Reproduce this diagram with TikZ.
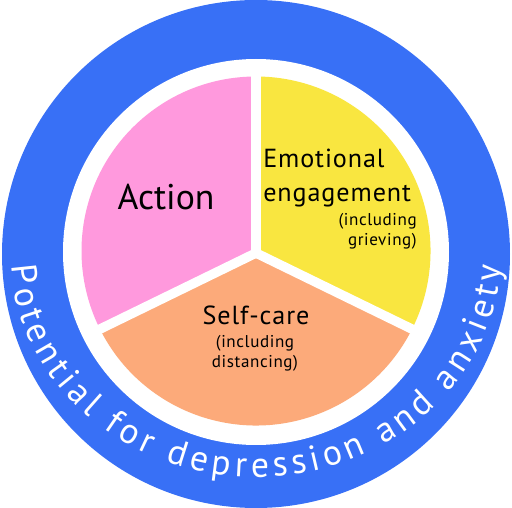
\documentclass[tikz,border=0pt]{standalone}
\usepackage{fontspec}
\setmainfont{PT Sans}
\newfontfamily\spacedfont[LetterSpace=3.5]{PT Sans}
\usetikzlibrary{decorations.text}

\definecolor{ringblue}{RGB}{56,112,246}
\definecolor{actionpink}{RGB}{255,153,221}
\definecolor{emoyellow}{RGB}{249,230,64}
\definecolor{careorange}{RGB}{252,170,122}

\newcommand{\bigfont}{\fontsize{26.8}{32}\selectfont}
\newcommand{\midfont}{\spacedfont\fontsize{19.6}{25.5}\selectfont}
\newcommand{\smallfont}{\spacedfont\fontsize{12.8}{15}\selectfont}
\newcommand{\ringfont}{\fontsize{26.8}{32}\selectfont}

\tikzset{
  gap/.style={draw=white, line width=7.1pt},
  label/.style={inner sep=0pt, text=black},
}

\begin{document}
\begin{tikzpicture}[x=0.75pt,y=0.75pt]
\useasboundingbox (0,0) rectangle (512,508);

\coordinate (ringc) at (256,254);
\coordinate (innerc) at (256,256);
\coordinate (piec) at (256,257);
\coordinate (hub) at (256,255);

%Shape: outer ring
\fill[ringblue] (ringc) circle[radius=254];
\fill[white] (innerc) circle[radius=193];

%Shape: sectors
\fill[actionpink] (hub) -- ([shift={(piec)}]90:174.5) arc[start angle=90, end angle=206, radius=174.5] -- cycle;
\fill[emoyellow] (hub) -- ([shift={(piec)}]-26:174.5) arc[start angle=-26, end angle=90, radius=174.5] -- cycle;
\fill[careorange] (hub) -- ([shift={(piec)}]206:174.5) arc[start angle=206, end angle=334, radius=174.5] -- cycle;

%Straight Lines: gaps
\draw[gap] (hub) -- ++(90:185);
\draw[gap] (hub) -- ++(206:185);
\draw[gap] (hub) -- ++(334:185);

% Text Node
\node[label, anchor=base, font=\bigfont] (action) at (166,298) {Action};
% Text Node
\node[label, anchor=base west, align=left, font=\midfont] (emotional) at (263,306) {Emotional\\engagement};
% Text Node
\node[label, anchor=base east, align=right, font=\smallfont] (grieving) at (417,262) {(including\\grieving)};
% Text Node
\node[label, anchor=base, font=\midfont] (selfcare) at (256,183) {Self-care};
% Text Node
\node[label, anchor=base, align=center, font=\smallfont] (distancing) at (255,140) {(including\\distancing)};

%Curved text along the ring
\path[font=\ringfont, decorate, decoration={text along path, text={|\ringfont|Potential for depression and anxiety}, text align={fit to path}, text color=white}]
  ([shift={(ringc)}]183:245 and 223) arc[start angle=183, end angle=357, x radius=245, y radius=223];

\end{tikzpicture}
\end{document}
